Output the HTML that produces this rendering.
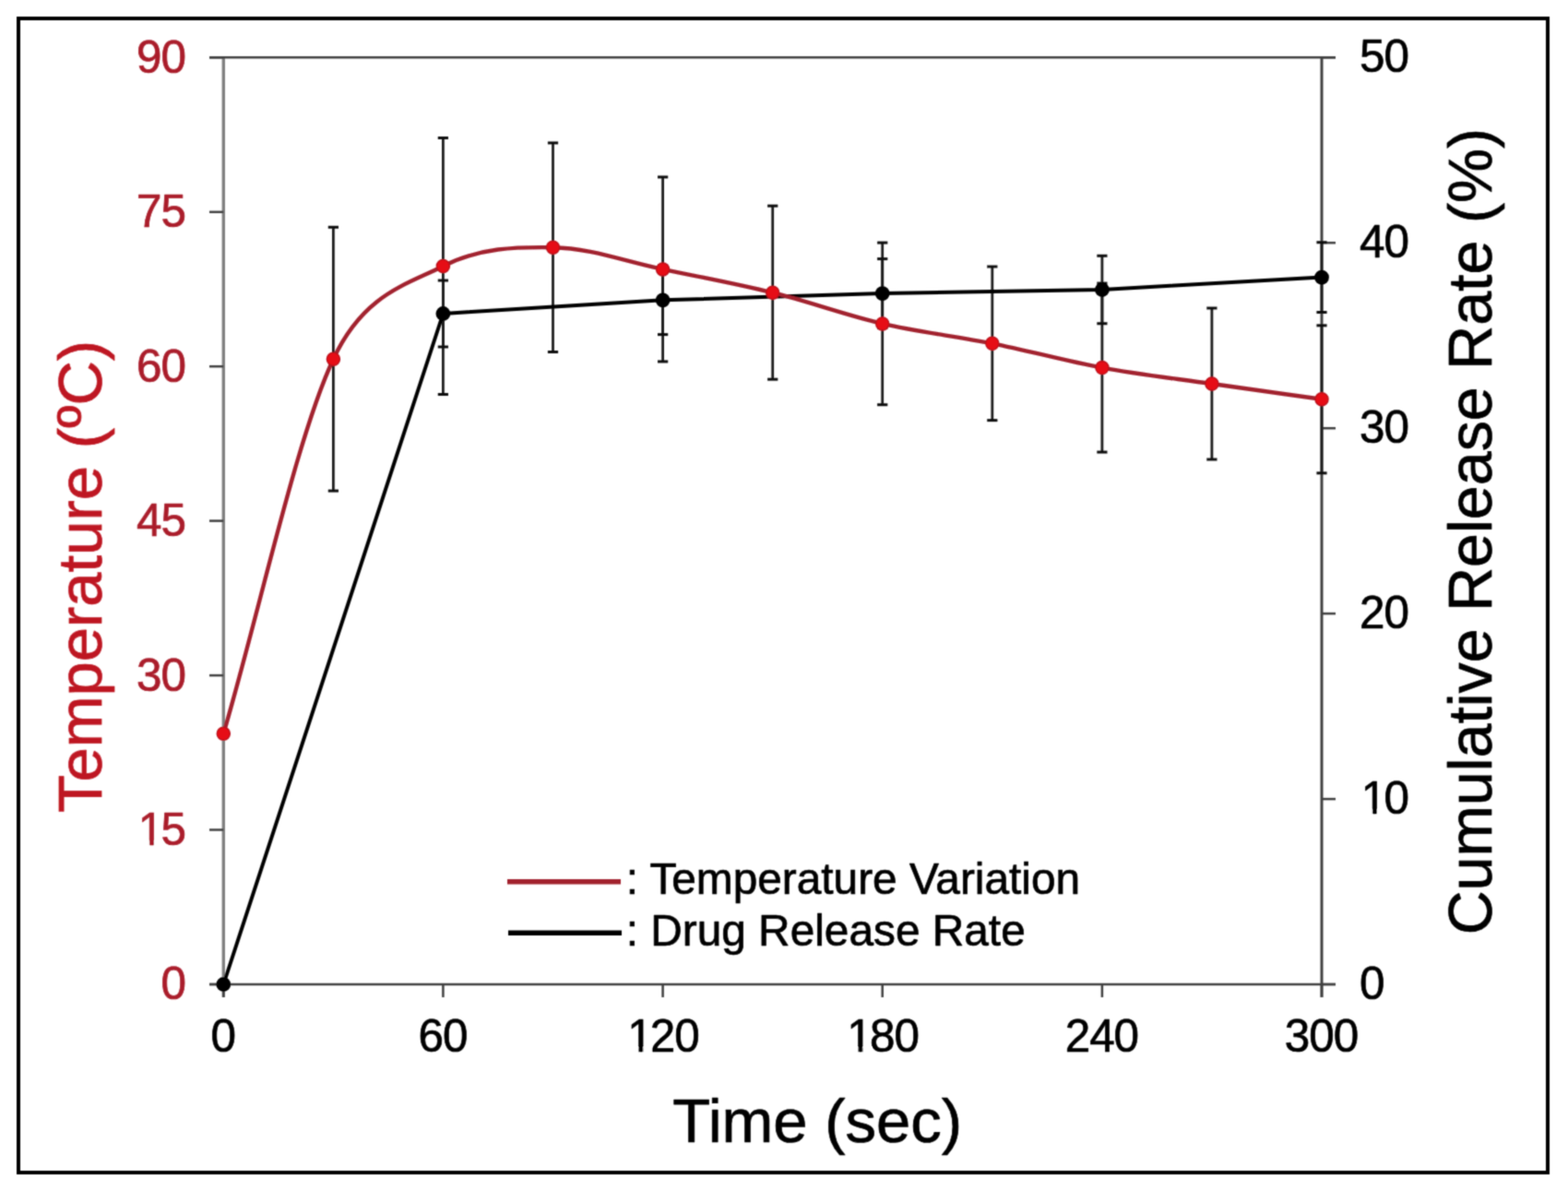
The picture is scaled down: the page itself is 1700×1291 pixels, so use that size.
<!DOCTYPE html>
<html><head><meta charset="utf-8"><title>Temperature and Drug Release</title>
<style>
html,body{margin:0;padding:0;background:#fff;}
body{width:1700px;height:1291px;overflow:hidden;}
svg{display:block;}
text{font-family:"Liberation Sans",Arial,Helvetica,sans-serif;stroke-width:0.7px;stroke-linejoin:round;}
.tl{font-size:49.4px;letter-spacing:-1px;}
.at{font-size:67px;}
.lg{font-size:47.8px;}
</style></head>
<body>
<svg width="1700" height="1291" viewBox="0 0 1700 1291">
<defs><filter id="soft" x="0" y="0" width="1700" height="1291" filterUnits="userSpaceOnUse"><feConvolveMatrix order="3" kernelMatrix="0.0361 0.1178 0.0361 0.1178 0.3846 0.1178 0.0361 0.1178 0.0361" edgeMode="none"/></filter></defs>
<rect width="1700" height="1291" fill="#fff"/>
<g filter="url(#soft)">
<rect x="20" y="20" width="1658" height="1251" fill="none" stroke="#000" stroke-width="4"/>
<line x1="242.3" y1="62.3" x2="242.3" y2="1081.0" stroke="#808080" stroke-width="3.4"/>
<line x1="227" y1="1067.0" x2="242.3" y2="1067.0" stroke="#404040" stroke-width="2.5"/>
<line x1="227" y1="899.5" x2="242.3" y2="899.5" stroke="#404040" stroke-width="2.5"/>
<line x1="227" y1="732.1" x2="242.3" y2="732.1" stroke="#404040" stroke-width="2.5"/>
<line x1="227" y1="564.6" x2="242.3" y2="564.6" stroke="#404040" stroke-width="2.5"/>
<line x1="227" y1="397.2" x2="242.3" y2="397.2" stroke="#404040" stroke-width="2.5"/>
<line x1="227" y1="229.8" x2="242.3" y2="229.8" stroke="#404040" stroke-width="2.5"/>
<line x1="227" y1="62.3" x2="242.3" y2="62.3" stroke="#404040" stroke-width="2.5"/>
<line x1="227" y1="62.3" x2="1448" y2="62.3" stroke="#404040" stroke-width="2.6"/>
<line x1="227" y1="1067.0" x2="1448" y2="1067.0" stroke="#404040" stroke-width="2.6"/>
<line x1="1433.0" y1="62.3" x2="1433.0" y2="1081.0" stroke="#404040" stroke-width="3"/>
<line x1="1433.0" y1="1067.0" x2="1448" y2="1067.0" stroke="#404040" stroke-width="2.5"/>
<line x1="1433.0" y1="866.1" x2="1448" y2="866.1" stroke="#404040" stroke-width="2.5"/>
<line x1="1433.0" y1="665.1" x2="1448" y2="665.1" stroke="#404040" stroke-width="2.5"/>
<line x1="1433.0" y1="464.2" x2="1448" y2="464.2" stroke="#404040" stroke-width="2.5"/>
<line x1="1433.0" y1="263.2" x2="1448" y2="263.2" stroke="#404040" stroke-width="2.5"/>
<line x1="1433.0" y1="62.3" x2="1448" y2="62.3" stroke="#404040" stroke-width="2.5"/>
<line x1="242.3" y1="1067.0" x2="242.3" y2="1081.0" stroke="#404040" stroke-width="2.5"/>
<line x1="480.4" y1="1067.0" x2="480.4" y2="1081.0" stroke="#404040" stroke-width="2.5"/>
<line x1="718.6" y1="1067.0" x2="718.6" y2="1081.0" stroke="#404040" stroke-width="2.5"/>
<line x1="956.7" y1="1067.0" x2="956.7" y2="1081.0" stroke="#404040" stroke-width="2.5"/>
<line x1="1194.9" y1="1067.0" x2="1194.9" y2="1081.0" stroke="#404040" stroke-width="2.5"/>
<line x1="1433.0" y1="1067.0" x2="1433.0" y2="1081.0" stroke="#404040" stroke-width="2.5"/>
<line x1="361.4" y1="246.3" x2="361.4" y2="532.1" stroke="#1c1c1c" stroke-width="2.8"/>
<line x1="355.8" y1="246.3" x2="367.0" y2="246.3" stroke="#111" stroke-width="3"/>
<line x1="355.8" y1="532.1" x2="367.0" y2="532.1" stroke="#111" stroke-width="3"/>
<line x1="480.4" y1="149.5" x2="480.4" y2="427.5" stroke="#1c1c1c" stroke-width="2.8"/>
<line x1="474.8" y1="149.5" x2="486.0" y2="149.5" stroke="#111" stroke-width="3"/>
<line x1="474.8" y1="427.5" x2="486.0" y2="427.5" stroke="#111" stroke-width="3"/>
<line x1="599.5" y1="154.9" x2="599.5" y2="381.5" stroke="#1c1c1c" stroke-width="2.8"/>
<line x1="593.9" y1="154.9" x2="605.1" y2="154.9" stroke="#111" stroke-width="3"/>
<line x1="593.9" y1="381.5" x2="605.1" y2="381.5" stroke="#111" stroke-width="3"/>
<line x1="718.6" y1="191.9" x2="718.6" y2="391.9" stroke="#1c1c1c" stroke-width="2.8"/>
<line x1="713.0" y1="191.9" x2="724.2" y2="191.9" stroke="#111" stroke-width="3"/>
<line x1="713.0" y1="391.9" x2="724.2" y2="391.9" stroke="#111" stroke-width="3"/>
<line x1="837.7" y1="223.2" x2="837.7" y2="411.2" stroke="#1c1c1c" stroke-width="2.8"/>
<line x1="832.1" y1="223.2" x2="843.3" y2="223.2" stroke="#111" stroke-width="3"/>
<line x1="832.1" y1="411.2" x2="843.3" y2="411.2" stroke="#111" stroke-width="3"/>
<line x1="956.7" y1="263.1" x2="956.7" y2="438.7" stroke="#1c1c1c" stroke-width="2.8"/>
<line x1="951.1" y1="263.1" x2="962.3" y2="263.1" stroke="#111" stroke-width="3"/>
<line x1="951.1" y1="438.7" x2="962.3" y2="438.7" stroke="#111" stroke-width="3"/>
<line x1="1075.8" y1="289.0" x2="1075.8" y2="455.6" stroke="#1c1c1c" stroke-width="2.8"/>
<line x1="1070.2" y1="289.0" x2="1081.4" y2="289.0" stroke="#111" stroke-width="3"/>
<line x1="1070.2" y1="455.6" x2="1081.4" y2="455.6" stroke="#111" stroke-width="3"/>
<line x1="1194.9" y1="307.1" x2="1194.9" y2="490.1" stroke="#1c1c1c" stroke-width="2.8"/>
<line x1="1189.3" y1="307.1" x2="1200.5" y2="307.1" stroke="#111" stroke-width="3"/>
<line x1="1189.3" y1="490.1" x2="1200.5" y2="490.1" stroke="#111" stroke-width="3"/>
<line x1="1313.9" y1="334.0" x2="1313.9" y2="498.0" stroke="#1c1c1c" stroke-width="2.8"/>
<line x1="1308.3" y1="334.0" x2="1319.5" y2="334.0" stroke="#111" stroke-width="3"/>
<line x1="1308.3" y1="498.0" x2="1319.5" y2="498.0" stroke="#111" stroke-width="3"/>
<line x1="1433.0" y1="352.8" x2="1433.0" y2="512.8" stroke="#1c1c1c" stroke-width="2.8"/>
<line x1="1427.4" y1="352.8" x2="1438.6" y2="352.8" stroke="#111" stroke-width="3"/>
<line x1="1427.4" y1="512.8" x2="1438.6" y2="512.8" stroke="#111" stroke-width="3"/>
<line x1="480.4" y1="304.0" x2="480.4" y2="376.0" stroke="#1c1c1c" stroke-width="2.8"/>
<line x1="474.8" y1="304.0" x2="486.0" y2="304.0" stroke="#111" stroke-width="3"/>
<line x1="474.8" y1="376.0" x2="486.0" y2="376.0" stroke="#111" stroke-width="3"/>
<line x1="718.6" y1="288.0" x2="718.6" y2="362.6" stroke="#1c1c1c" stroke-width="2.8"/>
<line x1="713.0" y1="288.0" x2="724.2" y2="288.0" stroke="#111" stroke-width="3"/>
<line x1="713.0" y1="362.6" x2="724.2" y2="362.6" stroke="#111" stroke-width="3"/>
<line x1="956.7" y1="280.6" x2="956.7" y2="355.6" stroke="#1c1c1c" stroke-width="2.8"/>
<line x1="951.1" y1="280.6" x2="962.3" y2="280.6" stroke="#111" stroke-width="3"/>
<line x1="951.1" y1="355.6" x2="962.3" y2="355.6" stroke="#111" stroke-width="3"/>
<line x1="1194.9" y1="277.3" x2="1194.9" y2="350.7" stroke="#1c1c1c" stroke-width="2.8"/>
<line x1="1189.3" y1="277.3" x2="1200.5" y2="277.3" stroke="#111" stroke-width="3"/>
<line x1="1189.3" y1="350.7" x2="1200.5" y2="350.7" stroke="#111" stroke-width="3"/>
<line x1="1433.0" y1="262.7" x2="1433.0" y2="338.5" stroke="#1c1c1c" stroke-width="2.8"/>
<line x1="1427.4" y1="262.7" x2="1438.6" y2="262.7" stroke="#111" stroke-width="3"/>
<line x1="1427.4" y1="338.5" x2="1438.6" y2="338.5" stroke="#111" stroke-width="3"/>
<path d="M242.3,1067.0 L480.4,340.0 L718.6,325.3 L956.7,318.1 L1194.9,314.0 L1433.0,300.6" fill="none" stroke="#000" stroke-width="4" stroke-linejoin="round"/>
<circle cx="242.3" cy="1067.0" r="7.9" fill="#000"/>
<circle cx="480.4" cy="340.0" r="7.9" fill="#000"/>
<circle cx="718.6" cy="325.3" r="7.9" fill="#000"/>
<circle cx="956.7" cy="318.1" r="7.9" fill="#000"/>
<circle cx="1194.9" cy="314.0" r="7.9" fill="#000"/>
<circle cx="1433.0" cy="300.6" r="7.9" fill="#000"/>
<path d="M242.3,795.3 C282.0,659.9 321.7,473.7 361.4,389.2 C394.5,318.6 440.8,308.7 480.4,288.5 C520.1,268.3 559.8,267.6 599.5,268.2 C639.2,268.8 678.9,283.7 718.6,291.9 C758.3,300.1 798.0,307.4 837.7,317.2 C877.3,327.0 917.0,341.7 956.7,350.9 C996.4,360.1 1036.1,364.4 1075.8,372.3 C1115.5,380.2 1155.2,391.3 1194.9,398.6 C1234.5,405.9 1274.2,410.3 1313.9,416.0 C1353.6,421.7 1393.3,427.2 1433.0,432.8" fill="none" stroke="#a2202e" stroke-width="4.4" stroke-linejoin="round"/>
<circle cx="242.3" cy="795.3" r="7.1" fill="#e60a12" stroke="#b8141e" stroke-width="1.3"/>
<circle cx="361.4" cy="389.2" r="7.1" fill="#e60a12" stroke="#b8141e" stroke-width="1.3"/>
<circle cx="480.4" cy="288.5" r="7.1" fill="#e60a12" stroke="#b8141e" stroke-width="1.3"/>
<circle cx="599.5" cy="268.2" r="7.1" fill="#e60a12" stroke="#b8141e" stroke-width="1.3"/>
<circle cx="718.6" cy="291.9" r="7.1" fill="#e60a12" stroke="#b8141e" stroke-width="1.3"/>
<circle cx="837.7" cy="317.2" r="7.1" fill="#e60a12" stroke="#b8141e" stroke-width="1.3"/>
<circle cx="956.7" cy="350.9" r="7.1" fill="#e60a12" stroke="#b8141e" stroke-width="1.3"/>
<circle cx="1075.8" cy="372.3" r="7.1" fill="#e60a12" stroke="#b8141e" stroke-width="1.3"/>
<circle cx="1194.9" cy="398.6" r="7.1" fill="#e60a12" stroke="#b8141e" stroke-width="1.3"/>
<circle cx="1313.9" cy="416.0" r="7.1" fill="#e60a12" stroke="#b8141e" stroke-width="1.3"/>
<circle cx="1433.0" cy="432.8" r="7.1" fill="#e60a12" stroke="#b8141e" stroke-width="1.3"/>
<text x="201.0" y="1083.4" text-anchor="end" class="tl" fill="#aa1e2b" stroke="#aa1e2b">0</text>
<text x="148.05" y="915.9" class="tl" fill="#aa1e2b" stroke="#aa1e2b"><tspan dx="1.8">1</tspan><tspan dx="-1.8">5</tspan></text>
<text x="201.0" y="748.5" text-anchor="end" class="tl" fill="#aa1e2b" stroke="#aa1e2b">30</text>
<text x="201.0" y="581.0" text-anchor="end" class="tl" fill="#aa1e2b" stroke="#aa1e2b">45</text>
<text x="201.0" y="413.6" text-anchor="end" class="tl" fill="#aa1e2b" stroke="#aa1e2b">60</text>
<text x="201.0" y="246.2" text-anchor="end" class="tl" fill="#aa1e2b" stroke="#aa1e2b">75</text>
<text x="201.0" y="78.7" text-anchor="end" class="tl" fill="#aa1e2b" stroke="#aa1e2b">90</text>
<text x="1474.0" y="1083.0" class="tl" fill="#000" stroke="#000">0</text>
<text x="1474.00" y="882.1" class="tl" fill="#000" stroke="#000"><tspan dx="1.8">1</tspan><tspan dx="-1.8">0</tspan></text>
<text x="1474.0" y="681.1" class="tl" fill="#000" stroke="#000">20</text>
<text x="1474.0" y="480.2" class="tl" fill="#000" stroke="#000">30</text>
<text x="1474.0" y="279.2" class="tl" fill="#000" stroke="#000">40</text>
<text x="1474.0" y="78.3" class="tl" fill="#000" stroke="#000">50</text>
<text x="241.8" y="1139.5" text-anchor="middle" class="tl" fill="#000" stroke="#000">0</text>
<text x="479.9" y="1139.5" text-anchor="middle" class="tl" fill="#000" stroke="#000">60</text>
<text x="678.37" y="1139.5" class="tl" fill="#000" stroke="#000"><tspan dx="1.8">1</tspan><tspan dx="-1.8">20</tspan></text>
<text x="916.51" y="1139.5" class="tl" fill="#000" stroke="#000"><tspan dx="1.8">1</tspan><tspan dx="-1.8">80</tspan></text>
<text x="1194.4" y="1139.5" text-anchor="middle" class="tl" fill="#000" stroke="#000">240</text>
<text x="1432.5" y="1139.5" text-anchor="middle" class="tl" fill="#000" stroke="#000">300</text>
<rect x="152.23" y="911.66" width="9.70" height="6.09" fill="#fff"/>
<rect x="166.99" y="911.66" width="9.23" height="6.09" fill="#fff"/>
<rect x="1478.18" y="877.77" width="9.70" height="6.09" fill="#fff"/>
<rect x="1492.94" y="877.77" width="9.23" height="6.09" fill="#fff"/>
<rect x="682.55" y="1135.21" width="9.70" height="6.09" fill="#fff"/>
<rect x="697.31" y="1135.21" width="9.23" height="6.09" fill="#fff"/>
<rect x="920.69" y="1135.21" width="9.70" height="6.09" fill="#fff"/>
<rect x="935.45" y="1135.21" width="9.23" height="6.09" fill="#fff"/>
<text x="886.2" y="1238.4" text-anchor="middle" class="at" fill="#000" stroke="#000">Time (sec)</text>
<text transform="translate(110,625) rotate(-90)" text-anchor="middle" class="at" fill="#be1622" stroke="#be1622">Temperature (ºC)</text>
<text transform="translate(1616.7,576.1) rotate(-90)" text-anchor="middle" class="at" style="font-size:66.4px" fill="#000" stroke="#000">Cumulative Release Rate (%)</text>
<line x1="550" y1="955.8" x2="673" y2="955.8" stroke="#a2202e" stroke-width="5.5"/>
<line x1="551" y1="1011.2" x2="674" y2="1011.2" stroke="#000" stroke-width="5.5"/>
<text x="678.7" y="968.7" class="lg" fill="#000" stroke="#000">: Temperature Variation</text>
<text x="678.7" y="1025.3" class="lg" fill="#000" stroke="#000">: Drug Release Rate</text>
</g>
</svg>
</body></html>
